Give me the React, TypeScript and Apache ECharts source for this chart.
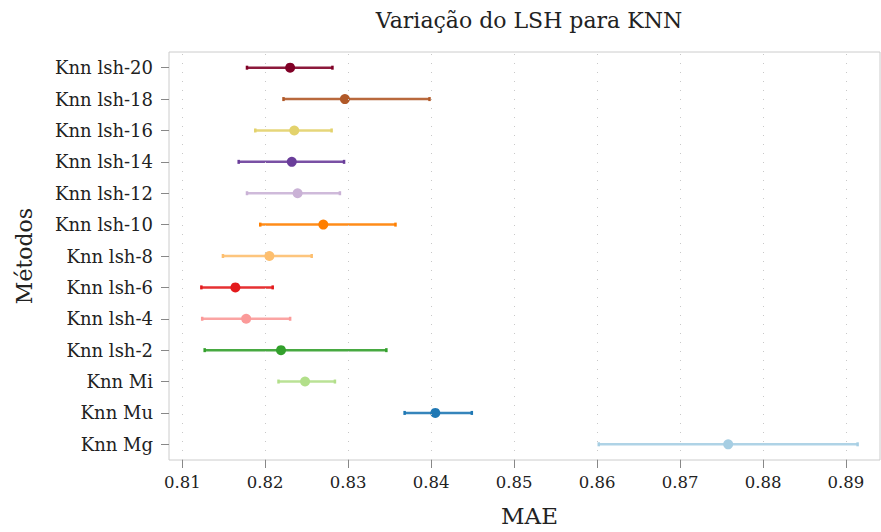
import React, { useEffect, useRef } from "react";
import * as echarts from "echarts";

const categories = [
  "Knn Mg", "Knn Mu", "Knn Mi", "Knn lsh-2", "Knn lsh-4", "Knn lsh-6", "Knn lsh-8",
  "Knn lsh-10", "Knn lsh-12", "Knn lsh-14", "Knn lsh-16", "Knn lsh-18", "Knn lsh-20",
];
const means = [0.8758, 0.8405, 0.8248, 0.8219, 0.8177, 0.8164, 0.8205, 0.8270, 0.8239, 0.8232, 0.8235, 0.8296, 0.8230];
const lows = [0.8602, 0.8368, 0.8216, 0.8127, 0.8124, 0.8123, 0.8149, 0.8194, 0.8178, 0.8168, 0.8188, 0.8222, 0.8178];
const highs = [0.8914, 0.8449, 0.8284, 0.8346, 0.8230, 0.8209, 0.8256, 0.8357, 0.8290, 0.8295, 0.8280, 0.8398, 0.8281];
const colors = [
  "#a6cee3", "#1f78b4", "#b2df8a", "#33a02c", "#fb9a99", "#e31a1c", "#fdbf6f",
  "#ff7f00", "#cab2d6", "#6a3d9a", "#e3d26c", "#b15928", "#800026",
];
const xTicks = [0.81, 0.82, 0.83, 0.84, 0.85, 0.86, 0.87, 0.88, 0.89];
const xMin = 0.8084;
const xMax = 0.8941;

const FONT = "DejaVu Serif";

export default function App() {
  const ref = useRef<HTMLDivElement>(null);
  useEffect(() => {
    if (!ref.current) return;
    const chart = echarts.init(ref.current, null, { renderer: "svg" });
    chart.setOption({
      animation: false,
      title: {
        text: "Variação do LSH para KNN",
        left: 524,
        top: 4,
        textAlign: "center",
        textStyle: { fontFamily: FONT, fontWeight: "normal", fontSize: 22, color: "#222" },
      },
      grid: {
        left: 169,
        right: 1,
        top: 52,
        bottom: 71,
        show: true,
        borderColor: "#cccccc",
        borderWidth: 1,
        backgroundColor: "transparent",
      },
      xAxis: {
        type: "value",
        min: xMin,
        max: xMax,
        name: "MAE",
        nameLocation: "middle",
        nameGap: 44,
        nameTextStyle: { fontFamily: FONT, fontSize: 23, color: "#222", padding: [0, 0, 0, 10] },
        axisLine: { show: false },
        splitLine: { show: false },
        axisTick: {
          show: true,
          length: 8,
          lineStyle: { color: "#888" },
          customValues: xTicks,
        },
        axisLabel: {
          customValues: xTicks,
          margin: 14,
          fontFamily: FONT,
          fontSize: 16.5,
          color: "#222",
          formatter: (v: number) => v.toFixed(2),
        },
      },
      yAxis: {
        type: "category",
        data: categories,
        name: "Métodos",
        nameLocation: "middle",
        nameGap: 134,
        nameTextStyle: { fontFamily: FONT, fontSize: 22, color: "#222" },
        axisLine: { show: false },
        axisTick: { show: true, length: 8, alignWithLabel: true, lineStyle: { color: "#888" } },
        axisLabel: { margin: 16, fontFamily: FONT, fontSize: 18, color: "#222" },
        splitLine: { show: false },
      },
      series: [
        {
          type: "custom",
          data: categories.map((_, i) => [i, lows[i], highs[i]]),
          encode: { x: [1, 2], y: 0 },
          markLine: {
            silent: true,
            symbol: "none",
            label: { show: false },
            lineStyle: { color: "#c8c8c8", type: [1, 8], width: 1 },
            data: xTicks.map((t) => ({ xAxis: t })),
          },
          renderItem: (params: any, api: any) => {
            const y = api.value(0);
            const lo = api.coord([api.value(1), y]);
            const hi = api.coord([api.value(2), y]);
            const c = colors[params.dataIndex];
            const cap = 2;
            return {
              type: "group",
              children: [
                {
                  type: "line",
                  shape: { x1: lo[0], y1: lo[1], x2: hi[0], y2: hi[1] },
                  style: { stroke: c, lineWidth: 2.5, opacity: 0.9 },
                },
                {
                  type: "line",
                  shape: { x1: lo[0], y1: lo[1] - cap, x2: lo[0], y2: lo[1] + cap },
                  style: { stroke: c, lineWidth: 2.5 },
                },
                {
                  type: "line",
                  shape: { x1: hi[0], y1: hi[1] - cap, x2: hi[0], y2: hi[1] + cap },
                  style: { stroke: c, lineWidth: 2.5 },
                },
              ],
            };
          },
          z: 2,
        },
        {
          type: "scatter",
          symbol: "circle",
          symbolSize: 10,
          data: means.map((m, i) => ({ value: [m, i], itemStyle: { color: colors[i], opacity: 1 } })),
          z: 3,
        },
      ],
    });
    return () => chart.dispose();
  }, []);
  return <div ref={ref} style={{ width: 881, height: 532, position: "absolute", left: 0, top: 0 }} />;
}
